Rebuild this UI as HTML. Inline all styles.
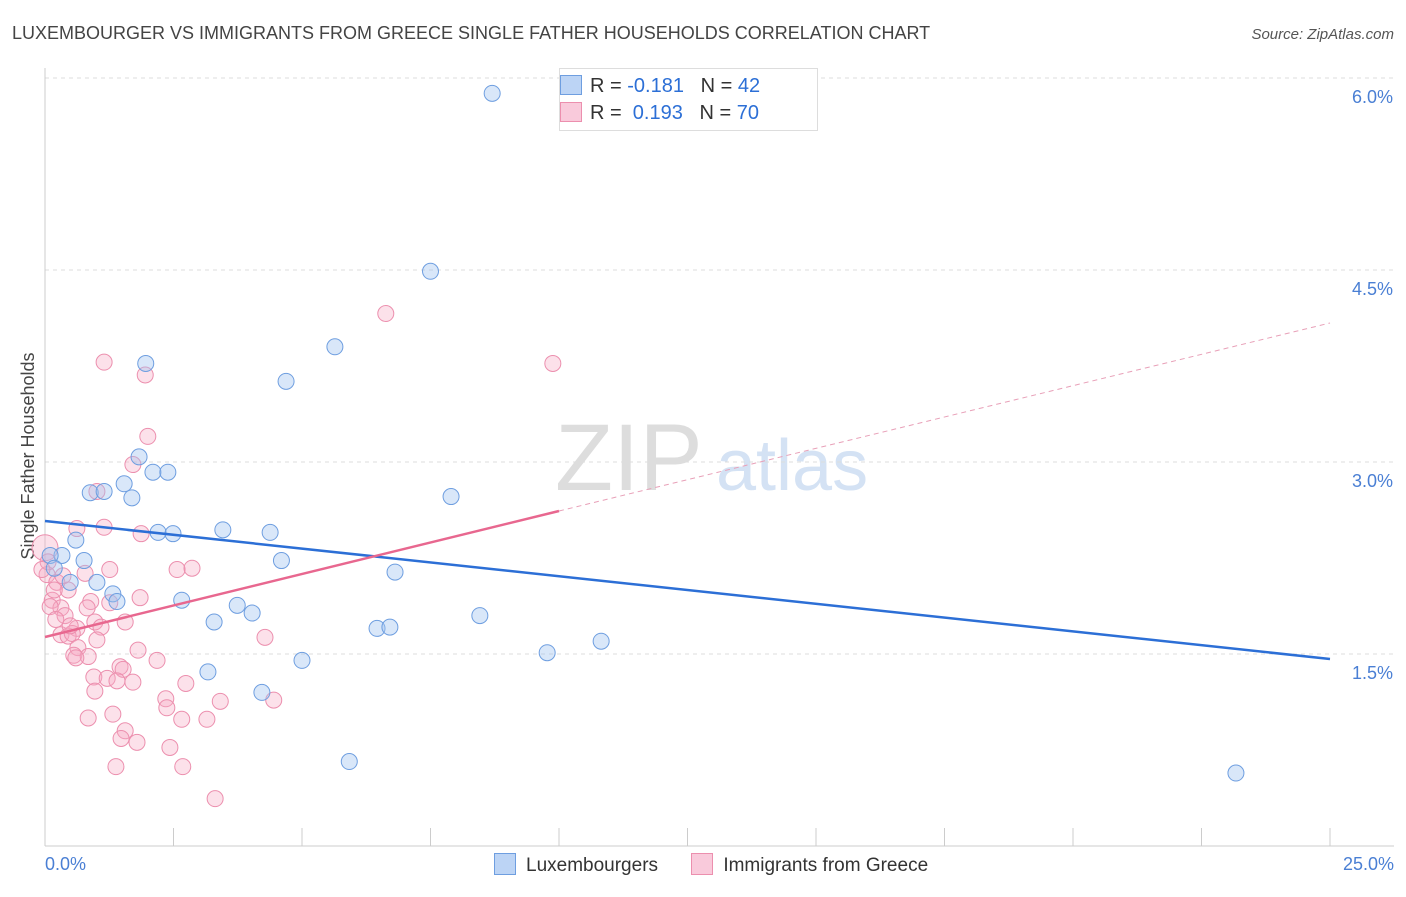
<!DOCTYPE html>
<html><head><meta charset="utf-8"><style>
body{margin:0;background:#fff;font-family:"Liberation Sans",sans-serif}
svg text{font-family:"Liberation Sans",sans-serif}
</style></head><body>
<svg id="c" width="1406" height="892"></svg>
<script>
const xTicks=[0,2.5,5,7.5,10,12.5,15,17.5,20,22.5,25];
const yTicks=[1.5,3.0,4.5,6.0];
const luxX=[8.7,7.5,5.64,1.96,4.69,1.83,2.1,2.39,1.54,0.88,1.15,1.69,7.9,3.46,2.2,2.49,4.38,0.6,0.33,0.76,0.1,4.6,0.18,6.81,0.49,1.01,1.32,1.4,2.66,3.74,4.03,3.29,8.46,6.46,6.71,10.82,9.77,5.0,3.17,4.22,5.92,23.17];
const luxY=[5.88,4.49,3.9,3.77,3.63,3.04,2.92,2.92,2.83,2.76,2.77,2.72,2.73,2.47,2.45,2.44,2.45,2.39,2.27,2.23,2.27,2.23,2.17,2.14,2.06,2.06,1.97,1.91,1.92,1.88,1.82,1.75,1.8,1.7,1.71,1.6,1.51,1.45,1.36,1.2,0.66,0.57];
const grX=[6.63,1.15,9.88,1.95,2.0,1.71,1.01,1.15,0.62,1.87,1.26,2.57,2.86,0.78,0.04,0.23,0.45,0.14,1.85,0.89,1.26,0.31,0.82,0.1,0.39,0.21,1.56,0.97,1.09,0.62,0.31,0.45,0.53,4.28,1.01,1.81,0.64,0.56,0.84,0.6,2.18,1.46,1.52,0.95,1.21,1.4,1.71,2.74,0.97,2.35,3.41,4.45,2.37,1.32,2.66,0.84,3.15,1.56,1.48,1.79,2.43,1.38,2.68,3.31,0.0,0.06,-0.06,0.18,0.35,0.49];
const grY=[4.16,3.78,3.77,3.68,3.2,2.98,2.77,2.49,2.48,2.44,2.16,2.16,2.17,2.13,2.12,2.06,2.0,1.92,1.94,1.91,1.9,1.86,1.86,1.87,1.8,1.77,1.75,1.75,1.71,1.7,1.65,1.64,1.66,1.63,1.61,1.53,1.55,1.49,1.48,1.47,1.45,1.4,1.38,1.32,1.31,1.29,1.28,1.27,1.21,1.15,1.13,1.14,1.08,1.03,0.99,1.0,0.99,0.9,0.84,0.81,0.77,0.62,0.62,0.37,2.33,2.22,2.16,2.0,2.11,1.72];
const NS="http://www.w3.org/2000/svg",svg=document.getElementById('c');
const X0=45,X1=1330,YB=846,PPU=128;
const sx=v=>X0+(v/25)*(X1-X0), sy=v=>YB-v*PPU;
function el(t,a,p){const e=document.createElementNS(NS,t);for(const k in a)e.setAttribute(k,a[k]);(p||svg).appendChild(e);return e;}
// title
let t=el('text',{x:12,y:39,'font-size':18,fill:'#444'});t.textContent='LUXEMBOURGER VS IMMIGRANTS FROM GREECE SINGLE FATHER HOUSEHOLDS CORRELATION CHART';

t=el('text',{x:1394,y:39,'font-size':15,fill:'#555','font-style':'italic','text-anchor':'end'});t.textContent='Source: ZipAtlas.com';

// watermark
t=el('text',{x:555,y:490,'font-size':95,fill:'#ddd','font-family':'Liberation Serif'});t.textContent='ZIP';

t=el('text',{x:716,y:490,'font-size':72,fill:'#d4e2f4'});t.textContent='atlas';

// grid
yTicks.forEach(v=>{const g=el('line',{x1:X0,x2:1394,y1:sy(v),y2:sy(v),stroke:'#ddd','stroke-dasharray':'4,4'});

const l=el('text',{x:1393,y:sy(v)+25,'font-size':18,fill:'#4a7fd4','text-anchor':'end'});l.textContent=v.toFixed(1)+'%';
});
let a=el('line',{x1:X0,x2:X0,y1:68,y2:YB,stroke:'#ccc'});
a=el('line',{x1:X0,x2:1394,y1:YB,y2:YB,stroke:'#ccc'});
xTicks.forEach(v=>{const k=el('line',{x1:sx(v),x2:sx(v),y1:YB,y2:828,stroke:'#ccc'});});
t=el('text',{x:45,y:870,'font-size':18,fill:'#4a7fd4'});t.textContent='0.0%';
t=el('text',{x:1394,y:870,'font-size':18,fill:'#4a7fd4','text-anchor':'end'});t.textContent='25.0%';
t=el('text',{x:0,y:0,'font-size':18,fill:'#444','text-anchor':'middle',transform:'translate(34,456) rotate(-90)'});t.textContent='Single Father Households';

// points
grX.forEach((x,i)=>{const c=el('circle',{cx:sx(x),cy:sy(grY[i]),r:i==64?13:8,fill:'rgba(246,170,195,0.35)',stroke:'#ec8fae','stroke-width':1});
});
luxX.forEach((x,i)=>{const c=el('circle',{cx:sx(x),cy:sy(luxY[i]),r:8,fill:'rgba(160,195,240,0.4)',stroke:'#6e9ee0','stroke-width':1});
});
// trends
let l=el('line',{x1:sx(0),y1:521,x2:sx(25),y2:659,stroke:'#2c6fd6','stroke-width':2.5});
l=el('line',{x1:sx(0),y1:637,x2:sx(10),y2:511,stroke:'#e8678f','stroke-width':2.5});
l=el('line',{x1:sx(10),y1:511,x2:sx(25),y2:323,stroke:'#e8a0b8','stroke-width':1,'stroke-dasharray':'5,4'});
</script>
<div style="position:absolute;left:559px;top:68px;width:257px;height:61px;border:1px solid #ddd;background:#fff;font-size:20px;color:#333">
 <div style="position:absolute;left:27px;top:6px;white-space:pre"><span style="display:inline-block;width:20px;height:18px;background:#bcd4f5;border:1px solid #6e9ee0;vertical-align:-3px;margin-left:-27px;margin-right:8px"></span>R = <span style="color:#2c6fd6">-0.181</span>   N = <span style="color:#2c6fd6">42</span></div>
 <div style="position:absolute;left:27px;top:33px;white-space:pre"><span style="display:inline-block;width:20px;height:18px;background:#f9cadb;border:1px solid #ec8fae;vertical-align:-3px;margin-left:-27px;margin-right:8px"></span>R =  <span style="color:#2c6fd6">0.193</span>   N = <span style="color:#2c6fd6">70</span></div>
</div>
<div style="position:absolute;top:853px;left:494px;font-size:19px;color:#333;white-space:nowrap">
 <span><span style="display:inline-block;width:20px;height:20px;background:#bcd4f5;border:1px solid #6e9ee0;vertical-align:-4px;margin-right:10px"></span>Luxembourgers</span>
 <span style="margin-left:28px"><span style="display:inline-block;width:20px;height:20px;background:#f9cadb;border:1px solid #ec8fae;vertical-align:-4px;margin-right:10px"></span>Immigrants from Greece</span>
</div>
</body></html>
